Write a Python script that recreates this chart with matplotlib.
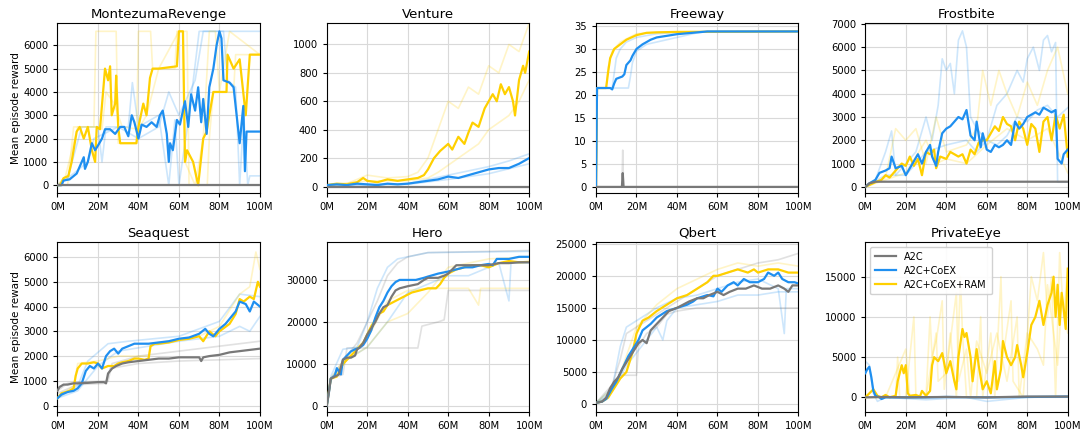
import numpy as np
import matplotlib
matplotlib.use("Agg")
import matplotlib.pyplot as plt
from matplotlib.ticker import FuncFormatter

# colores de las tres variantes
C_A2C = "#787878"
C_COEX = "#1f8ff0"
C_RAM = "#ffd000"

LABELS = ["A2C", "A2C+CoEX", "A2C+CoEX+RAM"]

# ---------------- datos (pasos en millones, recompensa media) ----------------
# MontezumaRevenge
mont_a2c = [(0, 0), (100, 0)]
mont_coex = [(0, 0), (2, 0), (3, 200), (6, 250), (9.5, 500), (11, 800), (13, 1200), (13.6, 700),
             (15, 1000), (17, 1800), (18.6, 1500), (20, 1700), (22, 2000), (23.5, 2400), (26, 2400),
             (28.5, 2200), (31, 2500), (33, 2500), (35, 2100), (36.7, 3000), (38, 2700), (40, 2000),
             (41.6, 2600), (44, 2500), (46.5, 2700), (49, 2500), (50.6, 3000), (52, 3200), (54, 2200),
             (55, 1000), (55.6, 1800), (57, 1500), (59, 2800), (60.5, 2600), (63, 3600), (64.6, 2500),
             (66, 3900), (68, 3200), (69.5, 4200), (71, 2700), (72, 3700), (73.7, 2200), (75, 4200),
             (77, 5000), (78.6, 6000), (80, 6600), (81, 6300), (82, 4500), (85, 4400), (87, 4200),
             (88.5, 3000), (90, 1800), (91.8, 3400), (92.6, 600), (93.4, 2300), (100, 2300)]
mont_ram = [(0, 0), (1.3, 0), (3, 300), (5.4, 400), (7, 1000), (9.5, 2300), (11, 2500), (13, 2000),
            (15, 2500), (17, 1500), (18.6, 1000), (19.4, 2500), (21, 2400), (23.5, 5000), (25, 4500),
            (26, 5100), (26.8, 3000), (28.5, 3500), (29, 4700), (30, 2500), (31, 1800), (39, 1800),
            (40, 2500), (42.4, 3500), (44, 3000), (45.7, 4600), (47, 5000), (50, 5000), (59, 5100),
            (60, 6600), (62, 6600), (63, 1000), (64, 1500), (67, 1000), (69.5, 0), (72, 2000),
            (73.7, 2300), (75, 3000), (77, 4000), (80, 4000), (83.5, 4000), (84, 5600), (87, 5000),
            (90, 5400), (93, 3000), (95, 5600), (100, 5600)]
mont_coex_runs = [
    [(0, 0), (5, 300), (12, 2500), (20, 2500), (22, 1000), (24, 2500), (35, 2500), (37, 4400),
     (40, 2500), (50, 3000), (55, 0), (58, 2800), (60, 0), (65, 3000), (70, 6600), (100, 6600)],
    [(0, 0), (8, 500), (15, 1000), (18, 2000), (30, 2500), (40, 2000), (50, 2500), (55, 4000),
     (60, 3000), (68, 4500), (72, 6600), (82, 6600), (84, 4500), (88, 4200), (90, 0), (92, 3000),
     (94, 0), (95, 400), (100, 400)],
]
mont_ram_runs = [
    [(0, 0), (5, 0), (8, 2500), (18, 2500), (19, 6600), (29, 6600), (30, 1800), (39, 1800),
     (40, 6600), (46, 6600), (47, 5000), (58, 5000), (59, 6600), (64, 6600), (65, 0), (74, 0),
     (75, 2000), (77, 4000), (87, 4000), (88, 5600), (100, 5600)],
    [(0, 0), (4, 400), (10, 2500), (20, 2500), (22, 2400), (24, 4000), (28, 3500), (32, 2500),
     (40, 2400), (44, 3000), (50, 5000), (60, 6600), (62, 6600), (63, 1000), (68, 0), (72, 2000),
     (75, 6600), (78, 6600), (80, 4000), (85, 6600), (100, 5600)],
]

# Venture
vent_a2c = [(0, 0), (100, 0)]
vent_coex = [(0, 10), (5, 15), (10, 10), (15, 20), (20, 15), (25, 10), (30, 20), (35, 15), (40, 20),
             (45, 30), (50, 40), (55, 50), (60, 70), (65, 60), (70, 80), (75, 100), (80, 120),
             (85, 130), (90, 130), (95, 160), (100, 200)]
vent_ram = [(0, 10), (5, 20), (10, 15), (15, 30), (18, 60), (20, 40), (25, 30), (30, 50), (35, 40),
            (40, 50), (45, 60), (48, 80), (50, 120), (53, 200), (56, 250), (60, 300), (62, 260),
            (65, 350), (68, 300), (70, 380), (72, 450), (75, 420), (78, 550), (80, 600), (82, 650),
            (84, 600), (86, 720), (88, 650), (90, 700), (92, 600), (93, 500), (95, 750), (97, 850),
            (98, 800), (100, 950)]
vent_coex_runs = [
    [(0, 10), (40, 20), (60, 80), (80, 140), (90, 180), (100, 230)],
    [(0, 5), (40, 15), (60, 50), (80, 90), (100, 160)],
]
vent_ram_runs = [
    [(0, 0), (10, 20), (20, 80), (30, 60), (40, 70), (45, 100), (50, 200), (55, 400), (60, 600),
     (65, 550), (70, 700), (75, 650), (80, 850), (85, 800), (90, 1000), (95, 950), (100, 1150)],
    [(0, 10), (20, 40), (40, 40), (50, 60), (55, 100), (60, 150), (65, 200), (70, 250), (75, 300),
     (80, 400), (85, 450), (90, 500), (95, 600), (100, 750)],
]

# Freeway
free_a2c = [(0, 0), (12.8, 0), (13.2, 3), (13.6, 0), (100, 0)]
free_coex = [(0, 0), (0.5, 21.5), (7, 21.5), (8, 21.2), (9, 22.5), (10, 23.5), (13, 24), (14, 24.5),
             (15, 26.5), (17, 27.5), (18, 28.5), (20, 30), (23, 31), (27, 32), (30, 32.5), (40, 33.2),
             (50, 33.6), (55, 33.8), (100, 33.8)]
free_ram = [(0, 0), (0.5, 21.5), (5, 21.5), (6, 25), (7, 28), (9, 30), (12, 31), (15, 32), (20, 33),
            (25, 33.5), (30, 33.6), (40, 33.7), (100, 33.8)]
free_a2c_runs = [[(0, 0), (12.8, 0), (13.2, 8), (13.6, 0), (100, 0)]]
free_coex_runs = [
    [(0, 0), (0.5, 21.5), (16, 21.5), (17, 24), (18, 27), (20, 29.5), (25, 31), (30, 31.5),
     (40, 32.5), (50, 33.5), (55, 33.8), (100, 33.8)],
    [(0, 0), (0.5, 21.5), (8, 21.5), (10, 28), (12, 30), (15, 31.5), (20, 32.5), (30, 33.3),
     (45, 33.7), (100, 33.8)],
]
free_ram_runs = [[(0, 0), (0.5, 21.5), (5, 21.5), (6, 26), (8, 29.5), (12, 31.5), (20, 33.3),
                  (30, 33.6), (100, 33.8)]]

# Frostbite
frost_a2c = [(0, 0), (2, 150), (5, 220), (100, 220)]
frost_coex = [(0, 0), (2, 150), (5, 300), (7, 600), (10, 700), (12, 800), (13, 1300), (15, 800),
              (18, 900), (20, 500), (22, 800), (24, 1100), (26, 1400), (28, 1000), (30, 1500),
              (32, 1800), (33, 1300), (35, 900), (36, 1500), (38, 2300), (40, 2500), (42, 2600),
              (44, 2800), (46, 3000), (48, 2900), (50, 3300), (52, 2200), (54, 2000), (55, 2800),
              (57, 1700), (58, 2300), (60, 1600), (62, 1500), (64, 1800), (66, 1700), (68, 1800),
              (70, 2000), (72, 1800), (74, 2800), (76, 2500), (78, 2700), (80, 3000), (82, 3100),
              (84, 3200), (86, 3100), (88, 3400), (90, 3300), (92, 3200), (94, 3300), (95, 1200),
              (97, 1000), (98, 1400), (100, 1600)]
frost_ram = [(0, 0), (5, 200), (8, 300), (10, 500), (12, 400), (14, 600), (16, 800), (18, 1000),
             (20, 900), (22, 1300), (24, 900), (26, 1200), (28, 500), (30, 1500), (32, 1400),
             (34, 1600), (35, 800), (37, 1300), (40, 1200), (42, 1500), (44, 1400), (46, 1300),
             (48, 1400), (50, 1000), (52, 1600), (54, 1400), (56, 1900), (58, 2000), (60, 2000),
             (62, 2300), (64, 2600), (66, 2400), (68, 3000), (70, 2700), (72, 2600), (74, 2000),
             (76, 2800), (78, 2500), (80, 1800), (82, 2700), (84, 2500), (86, 1500), (88, 2800),
             (90, 3000), (92, 2000), (94, 3100), (96, 2500), (98, 3100), (100, 1300)]
frost_coex_runs = [
    [(0, 0), (5, 300), (10, 1500), (13, 2400), (15, 500), (20, 1000), (25, 1500), (30, 3000),
     (33, 2000), (36, 3500), (38, 5500), (40, 5000), (42, 5300), (44, 4000), (46, 6300),
     (48, 6700), (50, 6000), (52, 3000), (55, 2500), (60, 2000), (65, 1800), (70, 2200),
     (75, 3000), (80, 2800), (85, 3300), (90, 3500), (95, 3000), (100, 3400)],
    [(0, 0), (10, 500), (20, 500), (30, 1500), (40, 1800), (50, 2000), (55, 1500), (60, 2000),
     (65, 3500), (70, 4000), (75, 5000), (78, 4500), (80, 5500), (83, 6000), (86, 5000),
     (88, 6300), (90, 6500), (92, 5800), (94, 6200), (95, 200), (100, 200)],
]
frost_ram_runs = [
    [(0, 0), (10, 400), (15, 2500), (20, 2000), (25, 2500), (30, 1000), (35, 3000), (40, 1500),
     (50, 1800), (55, 2500), (58, 5000), (62, 3500), (66, 5000), (70, 4000), (75, 3000),
     (80, 4500), (85, 3500), (90, 5000), (95, 6000), (100, 4000)],
    [(0, 0), (10, 300), (20, 600), (30, 2000), (35, 1000), (40, 1200), (50, 1000), (60, 1800),
     (70, 2500), (80, 2000), (90, 2500), (100, 600)],
]

# Seaquest
sea_a2c = [(0, 600), (1, 750), (3, 850), (5, 850), (8, 900), (10, 900), (15, 920), (20, 950),
           (23, 950), (24, 900), (25, 1300), (27, 1500), (29, 1600), (32, 1700), (35, 1750),
           (40, 1800), (45, 1850), (50, 1900), (55, 1900), (60, 1950), (65, 1950), (70, 1950),
           (71, 1800), (72, 1950), (75, 2000), (80, 2050), (85, 2150), (90, 2200), (95, 2250),
           (100, 2300)]
sea_coex = [(0, 300), (2, 450), (5, 550), (8, 600), (10, 700), (12, 900), (14, 1400), (16, 1600),
            (18, 1500), (20, 1700), (22, 1500), (24, 2000), (26, 2200), (28, 2300), (30, 2100),
            (32, 2300), (35, 2400), (38, 2500), (40, 2500), (45, 2500), (50, 2550), (55, 2600),
            (60, 2700), (65, 2750), (70, 2900), (73, 3100), (75, 2900), (77, 2800), (80, 3100),
            (83, 3300), (85, 3500), (88, 3800), (90, 4200), (93, 4100), (95, 3800), (97, 4200),
            (100, 4000)]
sea_ram = [(0, 300), (2, 500), (4, 550), (6, 600), (8, 700), (9, 1200), (10, 1500), (12, 1700),
           (15, 1700), (18, 1750), (20, 1700), (22, 1500), (25, 1600), (28, 1600), (30, 1700),
           (32, 1750), (35, 1800), (38, 1900), (40, 1900), (43, 1850), (45, 1900), (46, 2400),
           (48, 2500), (50, 2500), (55, 2550), (60, 2650), (65, 2700), (70, 2800), (72, 2600),
           (75, 3000), (78, 2800), (80, 3000), (85, 3300), (88, 3700), (90, 4300), (92, 4200),
           (95, 4400), (97, 4300), (99, 5000), (100, 4800)]
sea_a2c_runs = [
    [(0, 600), (5, 900), (10, 950), (25, 1000), (27, 1700), (40, 2000), (60, 2200), (80, 2400),
     (100, 2600)],
    [(0, 500), (10, 850), (24, 900), (26, 1500), (40, 1700), (60, 1800), (80, 1850), (100, 1900)],
]
sea_coex_runs = [
    [(0, 300), (10, 800), (15, 1800), (25, 2500), (35, 2600), (60, 2800), (80, 3400), (90, 4500),
     (100, 4400)],
    [(0, 300), (10, 600), (20, 1600), (30, 2200), (60, 2600), (80, 2800), (90, 3200), (95, 3000),
     (100, 3600)],
]
sea_ram_runs = [[(0, 300), (8, 800), (10, 1700), (20, 1800), (30, 2000), (45, 2000), (46, 2500),
                 (70, 2800), (80, 3200), (90, 4500), (95, 4800), (98, 6200), (100, 5500)]]

# Hero
hero_a2c = [(0, 0), (1, 3000), (2, 6500), (4, 7000), (6, 7500), (8, 11000), (10, 11500),
            (12, 11500), (14, 12000), (15, 13500), (16, 13800), (18, 15000), (20, 17000),
            (22, 18500), (24, 20000), (26, 22000), (28, 23500), (30, 24000), (32, 26000),
            (34, 27500), (36, 28000), (40, 28500), (45, 29000), (48, 30000), (50, 30500),
            (55, 30500), (58, 31000), (60, 31500), (62, 32500), (64, 33500), (80, 33500),
            (85, 34000), (90, 34000), (95, 34200), (100, 34200)]
hero_coex = [(0, 0), (1, 3000), (2, 6500), (4, 7200), (5, 9000), (7, 7500), (8, 11000), (10, 12000),
             (12, 13000), (14, 13500), (16, 13800), (18, 14500), (20, 16000), (22, 18000),
             (24, 21000), (26, 23500), (28, 25000), (30, 27000), (32, 28500), (34, 29500),
             (36, 30000), (44, 30000), (48, 30500), (50, 30800), (55, 31500), (58, 31800),
             (60, 32000), (64, 32500), (68, 33000), (72, 33000), (76, 33500), (80, 33800),
             (82, 33500), (84, 35000), (90, 35000), (95, 35500), (100, 35500)]
hero_ram = [(0, 0), (2, 6500), (5, 7000), (8, 10000), (10, 11000), (14, 13000), (18, 15000),
            (22, 19000), (26, 22000), (28, 22500), (30, 24000), (34, 25000), (38, 26000),
            (42, 27000), (46, 27500), (50, 28000), (54, 28000), (56, 29000), (58, 30500),
            (60, 31500), (64, 32500), (68, 33000), (72, 33500), (76, 33500), (80, 33000),
            (85, 34000), (90, 34500), (95, 34200), (100, 34300)]
hero_a2c_runs = [
    [(0, 0), (2, 6500), (8, 7500), (10, 13800), (45, 13800), (47, 19000), (55, 20000),
     (58, 20500), (60, 27500), (100, 27500)],
    [(0, 0), (2, 6500), (10, 12000), (15, 15000), (20, 20000), (25, 25000), (30, 31000),
     (35, 34000), (40, 35500), (50, 36500), (100, 37000)],
]
hero_coex_runs = [
    [(0, 0), (2, 7000), (8, 13500), (15, 14000), (20, 20000), (25, 28000), (30, 33000),
     (35, 35000), (40, 35500), (50, 36500), (100, 36800)],
    [(0, 0), (2, 6500), (10, 11000), (20, 14000), (30, 20000), (40, 27000), (50, 29000),
     (60, 31000), (70, 31000), (80, 33000), (85, 34000), (90, 25000), (91, 34000), (100, 34000)],
]
hero_ram_runs = [
    [(0, 0), (2, 6000), (10, 11000), (20, 14000), (30, 20000), (40, 22000), (50, 27000),
     (60, 33000), (70, 34000), (80, 35000), (100, 35500)],
    [(0, 0), (2, 6500), (10, 12000), (20, 16000), (30, 25000), (40, 27500), (50, 28000),
     (70, 28000), (75, 24000), (76, 28000), (100, 28000)],
]

# Qbert
qb_a2c = [(0, 200), (3, 400), (5, 1000), (7, 2500), (9, 3500), (11, 4200), (13, 5500), (15, 6500),
          (17, 7500), (19, 8500), (21, 9500), (23, 10000), (25, 9500), (27, 11500), (30, 12500),
          (33, 13500), (36, 14500), (40, 15000), (43, 15500), (46, 16000), (50, 16500), (53, 16500),
          (56, 17000), (60, 17500), (63, 17000), (66, 17500), (70, 18000), (74, 18000), (78, 18500),
          (82, 18000), (86, 18000), (90, 18500), (93, 18000), (95, 17500), (97, 18500), (100, 18500)]
qb_coex = [(0, 200), (3, 400), (5, 800), (8, 2500), (10, 3500), (13, 5500), (16, 7500), (19, 9000),
           (21, 10000), (23, 11500), (25, 12000), (27, 12500), (30, 13500), (35, 14500), (40, 15000),
           (45, 15500), (48, 16000), (50, 16500), (55, 17000), (58, 16800), (60, 18000), (62, 17500),
           (65, 18500), (68, 19000), (70, 18500), (73, 19500), (76, 19000), (80, 19000), (83, 19500),
           (85, 20500), (88, 20000), (90, 20500), (92, 19500), (95, 19000), (98, 19000), (100, 18800)]
qb_ram = [(0, 200), (3, 400), (6, 1000), (9, 2500), (12, 4000), (15, 5000), (18, 8000), (20, 11000),
          (23, 13000), (26, 13500), (30, 14500), (35, 15500), (40, 16500), (45, 17000), (50, 18000),
          (55, 19000), (58, 20000), (60, 20000), (65, 20500), (70, 21000), (75, 20500), (78, 21000),
          (80, 20500), (85, 21000), (90, 21000), (95, 20500), (100, 20500)]
qb_a2c_runs = [
    [(0, 200), (5, 1000), (10, 3500), (12, 4500), (20, 4500), (21, 9000), (25, 11000), (30, 12000),
     (35, 14000), (40, 14500), (50, 15000), (100, 15000)],
    [(0, 200), (8, 3000), (12, 7000), (15, 11000), (20, 12000), (30, 14000), (40, 16000),
     (50, 18000), (60, 20000), (70, 21000), (80, 22000), (90, 22500), (100, 23500)],
]
qb_coex_runs = [
    [(0, 200), (8, 2500), (12, 9000), (15, 12000), (20, 13000), (30, 15000), (40, 16500),
     (50, 17000), (60, 18000), (70, 19000), (80, 19500), (90, 18000), (93, 11000), (94, 18000),
     (100, 18000)],
    [(0, 200), (8, 2000), (15, 6000), (20, 8000), (25, 10000), (30, 12000), (33, 10000),
     (35, 13000), (40, 15000), (50, 15500), (60, 16000), (70, 17000), (80, 17000), (90, 17500),
     (100, 17500)],
]
qb_ram_runs = [[(0, 200), (10, 3000), (20, 12000), (30, 15500), (40, 18000), (50, 19500),
                (60, 21000), (70, 22000), (80, 21500), (90, 22000), (100, 21500)]]

# PrivateEye
pe_a2c = [(0, 0), (10, 50), (20, 0), (40, 50), (60, 0), (80, 100), (100, 100)]
pe_coex = [(0, 3000), (1, 3500), (2, 3800), (3, 2500), (4, 800), (5, 200), (7, 0), (8, -200),
           (10, 0), (30, 0), (40, 50), (60, 0), (80, 50), (100, 100)]
pe_ram = [(0, 0), (2, 500), (4, 1000), (6, 200), (8, 0), (10, 300), (12, 0), (15, 200), (16, 2000),
          (18, 4000), (19, 3000), (20, 4000), (21, 500), (22, 200), (25, 300), (27, 100), (28, 800),
          (30, 200), (32, 800), (33, 4000), (34, 5000), (36, 4500), (38, 5500), (40, 3000),
          (42, 4500), (44, 2000), (45, 1000), (46, 5000), (48, 8500), (49, 7500), (50, 8000),
          (52, 5000), (53, 2000), (55, 6000), (56, 4000), (58, 1000), (60, 2000), (62, 500),
          (64, 4500), (65, 1000), (67, 3500), (68, 7000), (70, 5000), (72, 4000), (74, 5000),
          (75, 6500), (77, 4000), (78, 2500), (80, 5500), (82, 9000), (84, 10000), (86, 12000),
          (88, 9000), (90, 11500), (92, 13000), (93, 15000), (94, 10000), (95, 14000), (96, 9000),
          (97, 13000), (98, 11000), (99, 8500), (100, 16000)]
pe_coex_runs = [[(0, 4500), (2, 4000), (4, 500), (6, -500), (10, 0), (30, -300), (50, 0),
                 (60, -500), (80, 0), (100, 100)]]
pe_ram_runs = [
    [(0, 0), (15, 0), (16, 5000), (17, 0), (20, 100), (24, 10000), (25, 200), (30, 0),
     (32, 10000), (33, 5000), (35, 7000), (38, 12000), (39, 1000), (42, 8000), (45, 0),
     (47, 15000), (48, 8000), (50, 0), (55, 0), (57, 10000), (58, 0), (62, 8000), (64, 0),
     (67, 15000), (68, 5000), (72, 12000), (73, 2000), (78, 0), (82, 15000), (85, 12000),
     (88, 18000), (90, 10000), (92, 15000), (94, 0), (96, 18000), (98, 10000), (100, 16000)],
    [(0, 0), (10, 0), (20, 6000), (22, 0), (30, 0), (35, 8000), (36, 2000), (40, 3000),
     (45, 13000), (46, 2000), (50, 6000), (52, 0), (55, 7000), (60, 3000), (65, 8000),
     (70, 2000), (75, 10000), (76, 0), (80, 8000), (85, 6000), (88, 4000), (90, 14000),
     (95, 4000), (97, 12000), (100, 8000)],
]

# juegos: titulo, medias, corridas individuales, limites y
juegos = [
    ("MontezumaRevenge", (mont_a2c, mont_coex, mont_ram), ([], mont_coex_runs, mont_ram_runs),
     (-330, 6950), [0, 1000, 2000, 3000, 4000, 5000, 6000]),
    ("Venture", (vent_a2c, vent_coex, vent_ram), ([], vent_coex_runs, vent_ram_runs),
     (-45, 1150), [0, 200, 400, 600, 800, 1000]),
    ("Freeway", (free_a2c, free_coex, free_ram), (free_a2c_runs, free_coex_runs, free_ram_runs),
     (-1.3, 35.6), [0, 5, 10, 15, 20, 25, 30, 35]),
    ("Frostbite", (frost_a2c, frost_coex, frost_ram), ([], frost_coex_runs, frost_ram_runs),
     (-260, 7030), [0, 1000, 2000, 3000, 4000, 5000, 6000, 7000]),
    ("Seaquest", (sea_a2c, sea_coex, sea_ram), (sea_a2c_runs, sea_coex_runs, sea_ram_runs),
     (-250, 6600), [0, 1000, 2000, 3000, 4000, 5000, 6000]),
    ("Hero", (hero_a2c, hero_coex, hero_ram), (hero_a2c_runs, hero_coex_runs, hero_ram_runs),
     (-1400, 39000), [0, 10000, 20000, 30000]),
    ("Qbert", (qb_a2c, qb_coex, qb_ram), (qb_a2c_runs, qb_coex_runs, qb_ram_runs),
     (-1200, 25250), [0, 5000, 10000, 15000, 20000, 25000]),
    ("PrivateEye", (pe_a2c, pe_coex, pe_ram), ([], pe_coex_runs, pe_ram_runs),
     (-1800, 19300), [0, 5000, 10000, 15000]),
]

colores = [C_A2C, C_COEX, C_RAM]


def xy(puntos):
    arr = np.array(puntos, dtype=float)
    return arr[:, 0], arr[:, 1]


fig, axes = plt.subplots(2, 4, figsize=(10.84, 4.29), dpi=100)
fig.subplots_adjust(left=0.053, right=0.985, top=0.946, bottom=0.04, wspace=0.33, hspace=0.29)

for i, (titulo, medias, corridas, ylim, yticks) in enumerate(juegos):
    ax = axes.flat[i]
    # corridas individuales (tenues)
    for runs, col in zip(corridas, colores):
        for r in runs:
            x, y = xy(r)
            ax.plot(x, y, color=col, lw=1.2, alpha=0.22, zorder=1)
    # medias: amarillo, azul, gris encima
    lineas = {}
    for k in [2, 1, 0]:
        x, y = xy(medias[k])
        lineas[k], = ax.plot(x, y, color=colores[k], lw=1.6, zorder=3 + (2 - k), label=LABELS[k])
    ax.set_xlim(0, 100)
    ax.set_ylim(*ylim)
    ax.set_xticks([0, 20, 40, 60, 80, 100])
    ax.xaxis.set_major_formatter(FuncFormatter(lambda v, p: f"{int(v)}M"))
    ax.set_yticks(yticks)
    ax.tick_params(labelsize=7.2, length=3, width=0.8)
    ax.grid(True, color="#d9d9d9", lw=0.8)
    ax.set_axisbelow(True)
    ax.set_title(titulo, fontsize=9.5, pad=4)
    if i % 4 == 0:
        ax.set_ylabel("Mean episode reward", fontsize=7.5, labelpad=2)
    if titulo == "PrivateEye":
        ax.legend(handles=[lineas[0], lineas[1], lineas[2]], loc="upper left", fontsize=7,
                  handlelength=2.2, framealpha=0.9, borderpad=0.5, labelspacing=0.4)

fig.savefig("out.png", dpi=100)
